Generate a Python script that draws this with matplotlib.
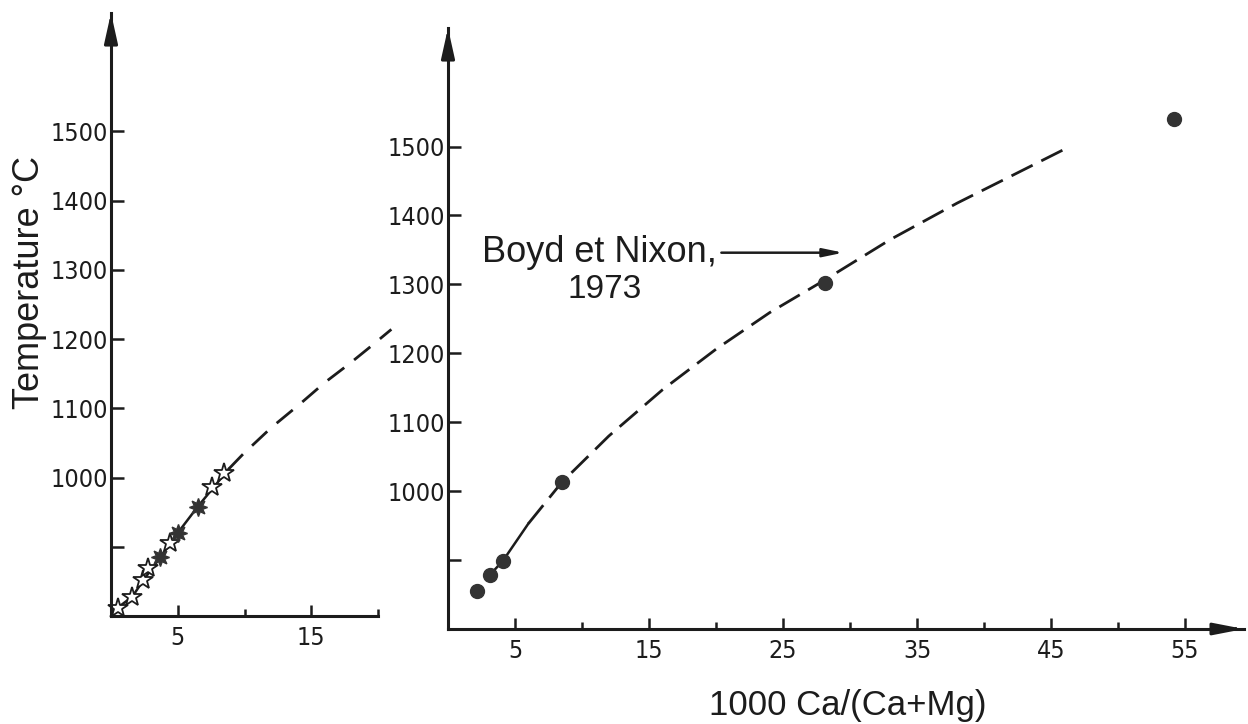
import matplotlib.pyplot as plt
from matplotlib.ticker import FixedLocator

# Boyd et Nixon (1973) points, right panel
boyd_x = [2.2, 3.1, 4.1, 8.5, 28.1, 54.2]
boyd_t = [855, 878, 899, 1013, 1302, 1540]

# line of the right panel
right_solid_x = [3.1, 4.1, 6.0]
right_solid_t = [878, 899, 953]
right_dash_x = [6.0, 8.5, 12, 16, 20, 24, 28, 33, 38, 42, 46.4]
right_dash_t = [953, 1013, 1080, 1147, 1206, 1259, 1305, 1365, 1418, 1457, 1500]

# left panel: open and filled stars
open_x = [0.5, 1.6, 2.4, 2.8, 4.4, 7.6, 8.5]
open_t = [812, 827, 852, 869, 905, 986, 1007]
filled_x = [3.7, 5.0, 6.5]
filled_t = [885, 920, 958]

left_solid_x = [0, 0.5, 1.6, 2.4, 3.7, 5.0, 6.5, 8.8]
left_solid_t = [800, 812, 828, 851, 885, 920, 958, 1012]
left_dash_x = [8.8, 9.9, 12, 14.2, 16, 17.9, 19.5, 21]
left_dash_t = [1012, 1034, 1072, 1107, 1137, 1165, 1190, 1214]

y_ticks = [900, 1000, 1100, 1200, 1300, 1400, 1500]
y_labels = ['', '1000', '1100', '1200', '1300', '1400', '1500']

ink = '#1c1c1c'
plt.rcParams['font.family'] = ['Liberation Sans', 'DejaVu Sans']
tick_kw = dict(family='DejaVu Sans', stretch='condensed', fontsize=18, color=ink)

W, H = 1248, 724
fig = plt.figure(figsize=(W / 100, H / 100), dpi=100)


def make_axes(x0, y0, x1, y1):
    ax = fig.add_axes([x0 / W, 1 - y0 / H, (x1 - x0) / W, (y0 - y1) / H])
    ax.patch.set_alpha(0)
    for side in ['top', 'right']:
        ax.spines[side].set_visible(False)
    for side in ['left', 'bottom']:
        ax.spines[side].set_linewidth(2.2)
        ax.spines[side].set_color(ink)
    ax.tick_params(axis='y', direction='in', length=9, width=1.8, color=ink, pad=2)
    ax.tick_params(axis='x', which='major', direction='in', length=8, width=1.8, color=ink, pad=7)
    ax.tick_params(axis='x', which='minor', direction='in', length=5, width=1.8, color=ink)
    ax.set_yticks(y_ticks)
    ax.set_yticklabels(y_labels, **tick_kw)
    # arrow on top of y axis
    ax.annotate('', xy=(0, 1.0), xycoords='axes fraction', xytext=(0, 0.97),
                arrowprops=dict(arrowstyle='-|>,head_length=1.8,head_width=0.4',
                                lw=2.2, color=ink, shrinkA=0, shrinkB=0))
    return ax


# left panel
ax1 = make_axes(111, 616, 378, 13)
ax1.set_xlim(0, 20)
ax1.set_ylim(800, 1671)
ax1.xaxis.set_major_locator(FixedLocator([5, 15]))
ax1.xaxis.set_minor_locator(FixedLocator([10, 20]))
ax1.set_xticklabels(['5', '15'], **tick_kw)

ax1.plot(left_solid_x, left_solid_t, c=ink, linewidth=1.8, clip_on=False)
ax1.plot(left_dash_x, left_dash_t, c=ink, linewidth=2, dashes=(7.5, 4.5), clip_on=False)
ax1.plot(open_x, open_t, linestyle='none', marker='*', markersize=15,
         markerfacecolor='white', markeredgecolor=ink, markeredgewidth=1.3, clip_on=False)
ax1.plot(filled_x, filled_t, linestyle='none', marker=(8, 1, 0), markersize=13,
         markerfacecolor='#333333', markeredgecolor='#333333', clip_on=False)

# right panel
ax2 = make_axes(448, 629, 1244, 28)
ax2.set_xlim(0, 59.4)
ax2.set_ylim(800, 1672)
ax2.xaxis.set_major_locator(FixedLocator([5, 15, 25, 35, 45, 55]))
ax2.xaxis.set_minor_locator(FixedLocator([10, 20, 30, 40, 50]))
ax2.set_xticklabels(['5', '15', '25', '35', '45', '55'], **tick_kw)
ax2.annotate('', xy=(1.0, 0), xycoords='axes fraction', xytext=(0.98, 0),
             arrowprops=dict(arrowstyle='-|>,head_length=1.8,head_width=0.35',
                             lw=2.2, color=ink, shrinkA=0, shrinkB=0))

ax2.plot(right_solid_x, right_solid_t, c=ink, linewidth=1.8)
ax2.plot(right_dash_x, right_dash_t, c=ink, linewidth=2, dashes=(8.5, 3.5))
ax2.plot(boyd_x, boyd_t, linestyle='none', marker='o', markersize=10,
         markerfacecolor='#333333', markeredgecolor='#333333', clip_on=False)

ax2.text(2.5, 1333, 'Boyd et Nixon,', fontsize=26, color=ink, va='baseline')
ax2.text(11.7, 1280, '1973', fontsize=24, color=ink, va='baseline', ha='center')
ax2.annotate('', xy=(29.5, 1346), xytext=(20.4, 1346),
             arrowprops=dict(arrowstyle='-|>,head_length=1.2,head_width=0.25',
                             lw=1.8, color=ink, shrinkA=0, shrinkB=0))

# axis titles
fig.text(30 / W, 1 - 282 / H, 'Temperature °C', rotation=90, ha='center', va='center',
         fontsize=26, color=ink)
fig.text(848 / W, 1 - 715 / H, '1000 Ca/(Ca+Mg)', ha='center', va='baseline',
         fontsize=25, color=ink)

plt.savefig('out.png', dpi=100)
